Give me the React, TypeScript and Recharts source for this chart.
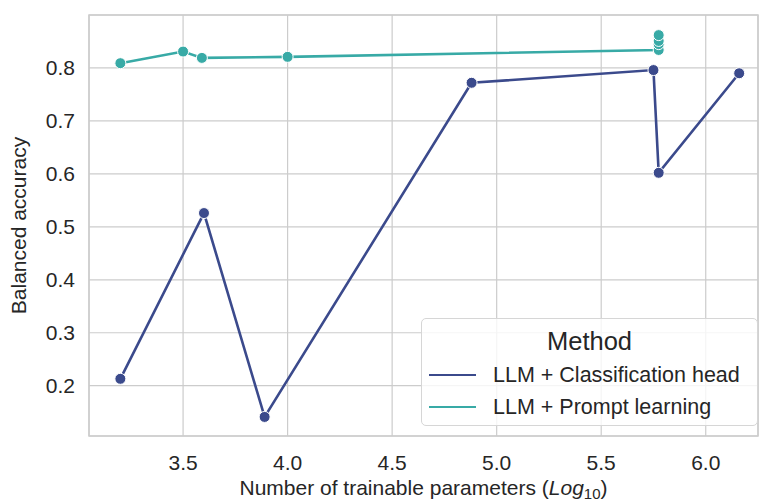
import { LineChart, Line, XAxis, YAxis, CartesianGrid, ReferenceArea } from "recharts";

const headX = [3.2, 3.6, 3.89, 4.88, 5.75, 5.775, 6.16];
const headY = [0.213, 0.526, 0.141, 0.772, 0.796, 0.602, 0.79];

const promptX = [3.2, 3.5, 3.59, 4.0, 5.775, 5.775, 5.775, 5.775];
const promptY = [0.809, 0.831, 0.819, 0.821, 0.834, 0.845, 0.851, 0.862];

const xTicks = [3.5, 4.0, 4.5, 5.0, 5.5, 6.0];
const yTicks = [0.2, 0.3, 0.4, 0.5, 0.6, 0.7, 0.8];

const headData = headX.map((x, i) => ({ x, y: headY[i] }));
const promptData = promptX.map((x, i) => ({ x, y: promptY[i] }));

const BLUE = "#3b4a8c";
const TEAL = "#38aaa6";
const FONT = "'Liberation Sans', Arial, sans-serif";
const TXT = "#262626";
const XMIN = 3.05;
const XMAX = 6.25;
const YMIN = 0.105;
const YMAX = 0.9;

function XLabel(props: any) {
  const vb = props.viewBox || { x: 0, y: 0, width: 0, height: 0 };
  const cx = vb.x + vb.width / 2;
  const y = vb.y + vb.height - 6;
  return (
    <text x={cx} y={y} textAnchor="middle" fontSize={21} fill={TXT} fontFamily={FONT}>
      Number of trainable parameters (
      <tspan fontStyle="italic">Log</tspan>
      <tspan fontSize={15} dy={4}>10</tspan>
      <tspan dy={-4}>)</tspan>
    </text>
  );
}

function LegendBox() {
  const items = [
    { label: "LLM + Classification head", color: BLUE },
    { label: "LLM + Prompt learning", color: TEAL },
  ];
  return (
    <div
      style={{
        position: "absolute",
        left: 421,
        top: 318,
        width: 337,
        height: 108,
        border: "1.5px solid #d6d6d6",
        borderRadius: 5,
        background: "rgba(255,255,255,0.8)",
        fontFamily: FONT,
        color: TXT,
        boxSizing: "border-box",
      }}
    >
      <div style={{ textAlign: "center", fontSize: 25.5, marginTop: 4, lineHeight: "36px" }}>Method</div>
      {items.map((it) => (
        <div key={it.label} style={{ display: "flex", alignItems: "center", height: 32 }}>
          <div style={{ width: 47, height: 2.6, background: it.color, marginLeft: 7, marginRight: 17 }} />
          <span style={{ fontSize: 21.5 }}>{it.label}</span>
        </div>
      ))}
    </div>
  );
}

export default function App() {
  const dot = (color: string) => ({ r: 5.5, fill: color, stroke: "#ffffff", strokeWidth: 1 });
  return (
    <div style={{ position: "absolute", left: 0, top: 0, width: 760, height: 501, background: "#fff" }}>
      <LineChart width={760} height={501} margin={{ top: 15, right: 2, bottom: 0, left: 0 }}>
        <CartesianGrid stroke="#cccccc" strokeWidth={1.2} />
        <ReferenceArea x1={XMIN} x2={XMAX} y1={YMIN} y2={YMAX} fill="none" stroke="#cccccc" strokeWidth={1.5} />
        <XAxis
          type="number"
          dataKey="x"
          domain={[XMIN, XMAX]}
          ticks={xTicks}
          tickFormatter={(v: number) => v.toFixed(1)}
          allowDataOverflow
          axisLine={false}
          tickLine={false}
          height={65}
          tick={{ fontSize: 21, fill: TXT, fontFamily: FONT, dy: 11 }}
          label={<XLabel />}
        />
        <YAxis
          type="number"
          dataKey="y"
          domain={[YMIN, YMAX]}
          ticks={yTicks}
          tickFormatter={(v: number) => v.toFixed(1)}
          allowDataOverflow
          axisLine={false}
          tickLine={false}
          width={89}
          tick={{ fontSize: 21, fill: TXT, fontFamily: FONT, dx: -6 }}
          label={{
            value: "Balanced accuracy",
            angle: -90,
            position: "insideLeft",
            offset: 19,
            style: { fontSize: 21, fill: TXT, fontFamily: FONT, textAnchor: "middle" },
          }}
        />
        <Line
          data={headData}
          dataKey="y"
          stroke={BLUE}
          strokeWidth={2.6}
          dot={dot(BLUE)}
          activeDot={false}
          isAnimationActive={false}
        />
        <Line
          data={promptData}
          dataKey="y"
          stroke={TEAL}
          strokeWidth={2.6}
          dot={dot(TEAL)}
          activeDot={false}
          isAnimationActive={false}
        />
      </LineChart>
      <LegendBox />
    </div>
  );
}
